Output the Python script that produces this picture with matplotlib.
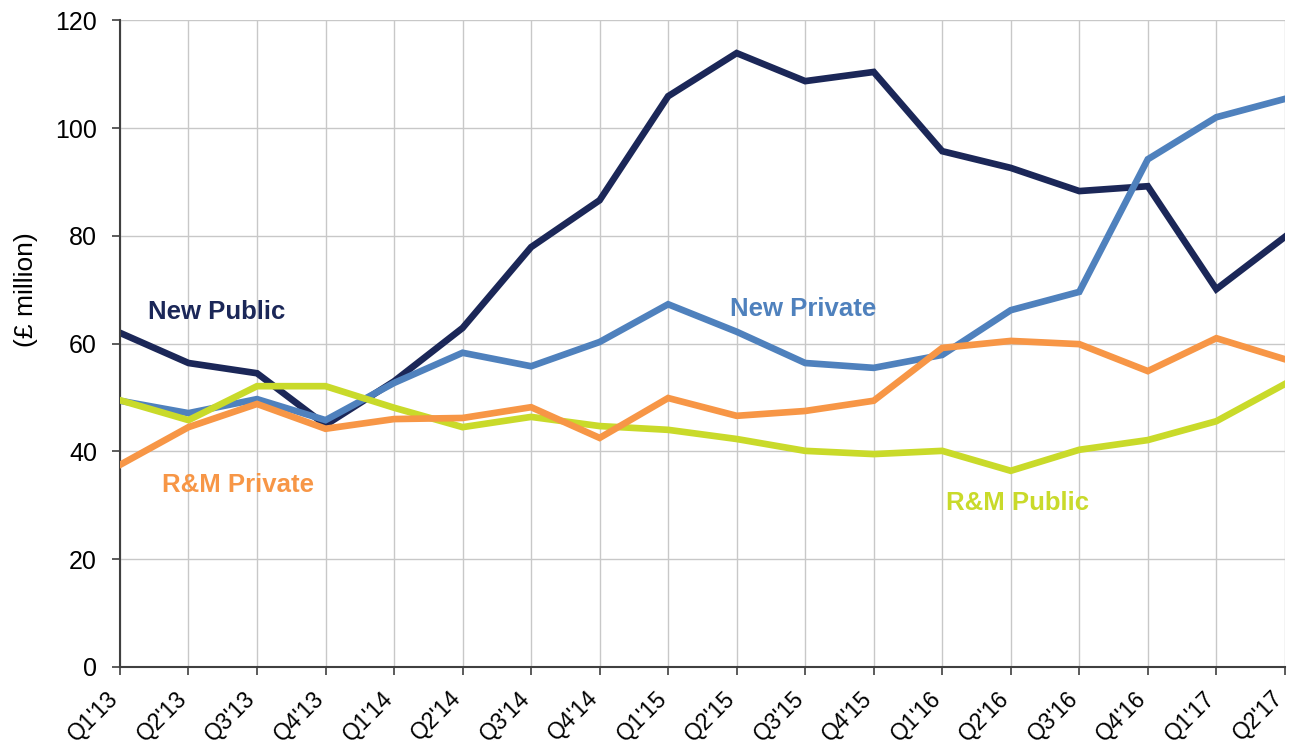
import matplotlib.pyplot as plt
from matplotlib.transforms import ScaledTranslation

quarters = ["Q1'13", "Q2'13", "Q3'13", "Q4'13", "Q1'14", "Q2'14", "Q3'14", "Q4'14", "Q1'15",
            "Q2'15", "Q3'15", "Q4'15", "Q1'16", "Q2'16", "Q3'16", "Q4'16", "Q1'17", "Q2'17"]

new_public = [62.0, 56.4, 54.5, 44.9, 53.0, 62.9, 77.9, 86.6, 105.9,
              113.9, 108.7, 110.4, 95.7, 92.6, 88.3, 89.2, 70.1, 79.8]
new_private = [49.4, 47.1, 49.7, 45.8, 52.7, 58.3, 55.8, 60.3, 67.3,
               62.2, 56.4, 55.5, 57.9, 66.2, 69.6, 94.2, 102.0, 105.4]
rm_private = [37.5, 44.5, 48.8, 44.2, 46.0, 46.2, 48.2, 42.5, 49.9,
              46.6, 47.5, 49.4, 59.2, 60.5, 59.9, 54.9, 61.0, 57.1]
rm_public = [49.5, 45.8, 52.1, 52.1, 48.1, 44.5, 46.4, 44.7, 44.0,
             42.3, 40.1, 39.5, 40.1, 36.4, 40.3, 42.1, 45.6, 52.5]

plt.rcParams['font.family'] = ['Liberation Sans', 'DejaVu Sans']

fig = plt.figure(figsize=(12.9, 7.49), dpi=100)
ax = fig.add_axes([0.093, 0.1095, 0.903, 0.8635])

x = range(len(quarters))
lw = 4.8
# ordre de tracé : la courbe vert-jaune passe sous les autres par endroits
ax.plot(x, new_private, color='#4F81BD', lw=lw, solid_joinstyle='miter', zorder=3)
ax.plot(x, rm_public, color='#C9DA2A', lw=lw, solid_joinstyle='miter', zorder=4)
ax.plot(x, new_public, color='#1B2758', lw=lw, solid_joinstyle='miter', zorder=2)
ax.plot(x, rm_private, color='#F79646', lw=lw, solid_joinstyle='miter', zorder=5)

fs_lab = 18.5
ax.text(0.41, 65.9, 'New Public', color='#1B2758', fontsize=fs_lab, fontweight='bold', va='center')
ax.text(8.9, 66.4, 'New Private', color='#4F81BD', fontsize=fs_lab, fontweight='bold', va='center')
ax.text(0.61, 33.8, 'R&M Private', color='#F79646', fontsize=fs_lab, fontweight='bold', va='center')
ax.text(12.06, 30.4, 'R&M Public', color='#C9DA2A', fontsize=fs_lab, fontweight='bold', va='center')

ax.set_xlim(0, len(quarters) - 1)
ax.set_ylim(0, 120)
ax.set_yticks(range(0, 121, 20))
ax.set_xticks(list(x))
ax.set_xticklabels(quarters, rotation=45, ha='right', va='center', rotation_mode='anchor')
ax.tick_params(axis='both', labelsize=18, colors='#404040', labelcolor='black', length=6, width=1.2)
ax.tick_params(axis='y', length=5.5, pad=11)
ax.tick_params(axis='x', pad=14, labelsize=16.5)

# décaler les étiquettes de l'axe x un peu vers la gauche
decal = ScaledTranslation(-5 / 100, 0, fig.dpi_scale_trans)
for lab in ax.get_xticklabels():
    lab.set_transform(lab.get_transform() + decal)

ax.grid(True, color='#C8C8C8', lw=1)
ax.set_axisbelow(True)
for s in ['top', 'right']:
    ax.spines[s].set_visible(False)
for s in ['left', 'bottom']:
    ax.spines[s].set_color('#404040')
    ax.spines[s].set_linewidth(1.5)

ax.set_ylabel('(£ million)', fontsize=19)
ax.yaxis.set_label_coords(-0.07, 0.583)

plt.savefig('out.png', dpi=100)
